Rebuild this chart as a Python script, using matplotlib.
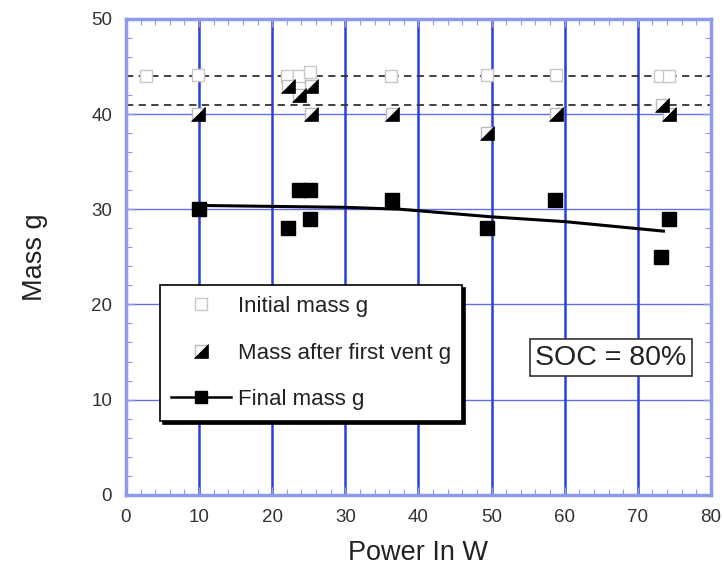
import matplotlib
matplotlib.use("Agg")
import matplotlib.pyplot as plt
from matplotlib.legend_handler import HandlerTuple
from matplotlib.lines import Line2D
from matplotlib.ticker import MultipleLocator

plt.rcParams["font.family"] = ["Liberation Sans", "DejaVu Sans"]

# Initial mass (open squares)
init_x = [2.8, 9.9, 22.0, 23.6, 25.2, 36.3, 49.4, 58.8, 73.0, 74.2]
init_y = [44.0, 44.1, 44.0, 44.0, 44.4, 44.0, 44.1, 44.1, 44.0, 44.0]

# Mass after first vent (half-filled squares)
vent_x = [9.9, 22.2, 23.7, 25.3, 25.3, 36.4, 49.4, 58.8, 73.3, 74.3]
vent_y = [40.0, 43.0, 42.0, 43.0, 40.0, 40.0, 38.0, 40.0, 41.0, 40.0]

# Final mass (filled squares)
final_x = [10.0, 22.1, 23.7, 25.2, 25.2, 36.4, 49.4, 58.7, 73.2, 74.3]
final_y = [30.0, 28.0, 32.0, 32.0, 29.0, 31.0, 28.0, 31.0, 25.0, 29.0]

# Trend line of final mass
fit_x = [10.0, 20.0, 30.0, 37.5, 50.0, 60.0, 73.5]
fit_y = [30.4, 30.3, 30.2, 30.0, 29.2, 28.7, 27.7]

# Reference dashed levels
ref_levels = [44.0, 40.9]

BLUE = "#2b3fe0"
LIGHT_BLUE = "#8e9aec"

fig = plt.figure(figsize=(7.24, 5.72), dpi=100)
ax = fig.add_axes([0.174, 0.135, 0.808, 0.832])

ax.set_xlim(0, 80)
ax.set_ylim(0, 50)

# grid
for xv in range(10, 80, 10):
    ax.axvline(xv, color=BLUE, lw=1.8, zorder=1)
for yv in range(10, 50, 10):
    ax.axhline(yv, color=BLUE, lw=1.0, alpha=0.75, zorder=1)

for lv in ref_levels:
    ax.axhline(lv, color="#333333", lw=1.3, ls=(0, (4, 3)), zorder=2)

init_h, = ax.plot(init_x, init_y, ls="none", marker="s", ms=9, mfc="white",
                  mec="#c8c8c8", mew=1.0, zorder=3)

tri = [(1, -1), (1, 1), (-1, -1), (1, -1)]
vent_sq, = ax.plot(vent_x, vent_y, ls="none", marker="s", ms=9, mfc="white",
                   mec="#bbbbbb", mew=1.0, zorder=4)
vent_tri, = ax.plot(vent_x, vent_y, ls="none", marker=tri, ms=10, mfc="black",
                    mec="black", mew=0.5, zorder=5)

ax.plot(fit_x, fit_y, color="black", lw=2.2, zorder=5)
final_h, = ax.plot(final_x, final_y, ls="none", marker="s", ms=10, mfc="black",
                   mec="black", zorder=6)
final_leg = Line2D([], [], color="black", lw=1.8, marker="s", ms=9, mfc="black")

ax.xaxis.set_major_locator(MultipleLocator(10))
ax.xaxis.set_minor_locator(MultipleLocator(2))
ax.yaxis.set_major_locator(MultipleLocator(10))
ax.yaxis.set_minor_locator(MultipleLocator(2))
ax.tick_params(which="both", direction="in", top=True, right=True,
               colors=LIGHT_BLUE, labelcolor="#333333", labelsize=13.5)
ax.tick_params(which="major", length=6, width=1)
ax.tick_params(which="minor", length=4, width=0.8)
ax.tick_params(axis="x", pad=10)
ax.tick_params(axis="y", pad=10)
for sp in ax.spines.values():
    sp.set_color(LIGHT_BLUE)
    sp.set_linewidth(2.5)

ax.set_xlabel("Power In W", fontsize=19.5, color="#222222", labelpad=10)
ax.set_ylabel("Mass g", fontsize=19.5, color="#222222", labelpad=31)

leg = ax.legend([init_h, (vent_sq, vent_tri), final_leg],
                ["Initial mass g", "Mass after first vent g", "Final mass g"],
                handler_map={tuple: HandlerTuple(ndivide=1, pad=0)},
                loc="upper left", bbox_to_anchor=(0.058, 0.441),
                fontsize=16, frameon=True, fancybox=False,
                shadow={"color": "black", "alpha": 1.0},
                handlelength=2.7, labelspacing=1.15, borderpad=0.5,
                handletextpad=0.3, borderaxespad=0)
leg.get_frame().set_edgecolor("black")
leg.get_frame().set_linewidth(1.2)
leg.get_frame().set_alpha(1)
for t in leg.get_texts():
    t.set_color("#222222")

ax.text(0.829, 0.288, "SOC = 80%", transform=ax.transAxes, fontsize=20.5,
        ha="center", va="center", color="#222222", zorder=7,
        bbox=dict(boxstyle="square,pad=0.2", fc="white", ec="#333333", lw=1.2))

fig.savefig("out.png", dpi=100)
